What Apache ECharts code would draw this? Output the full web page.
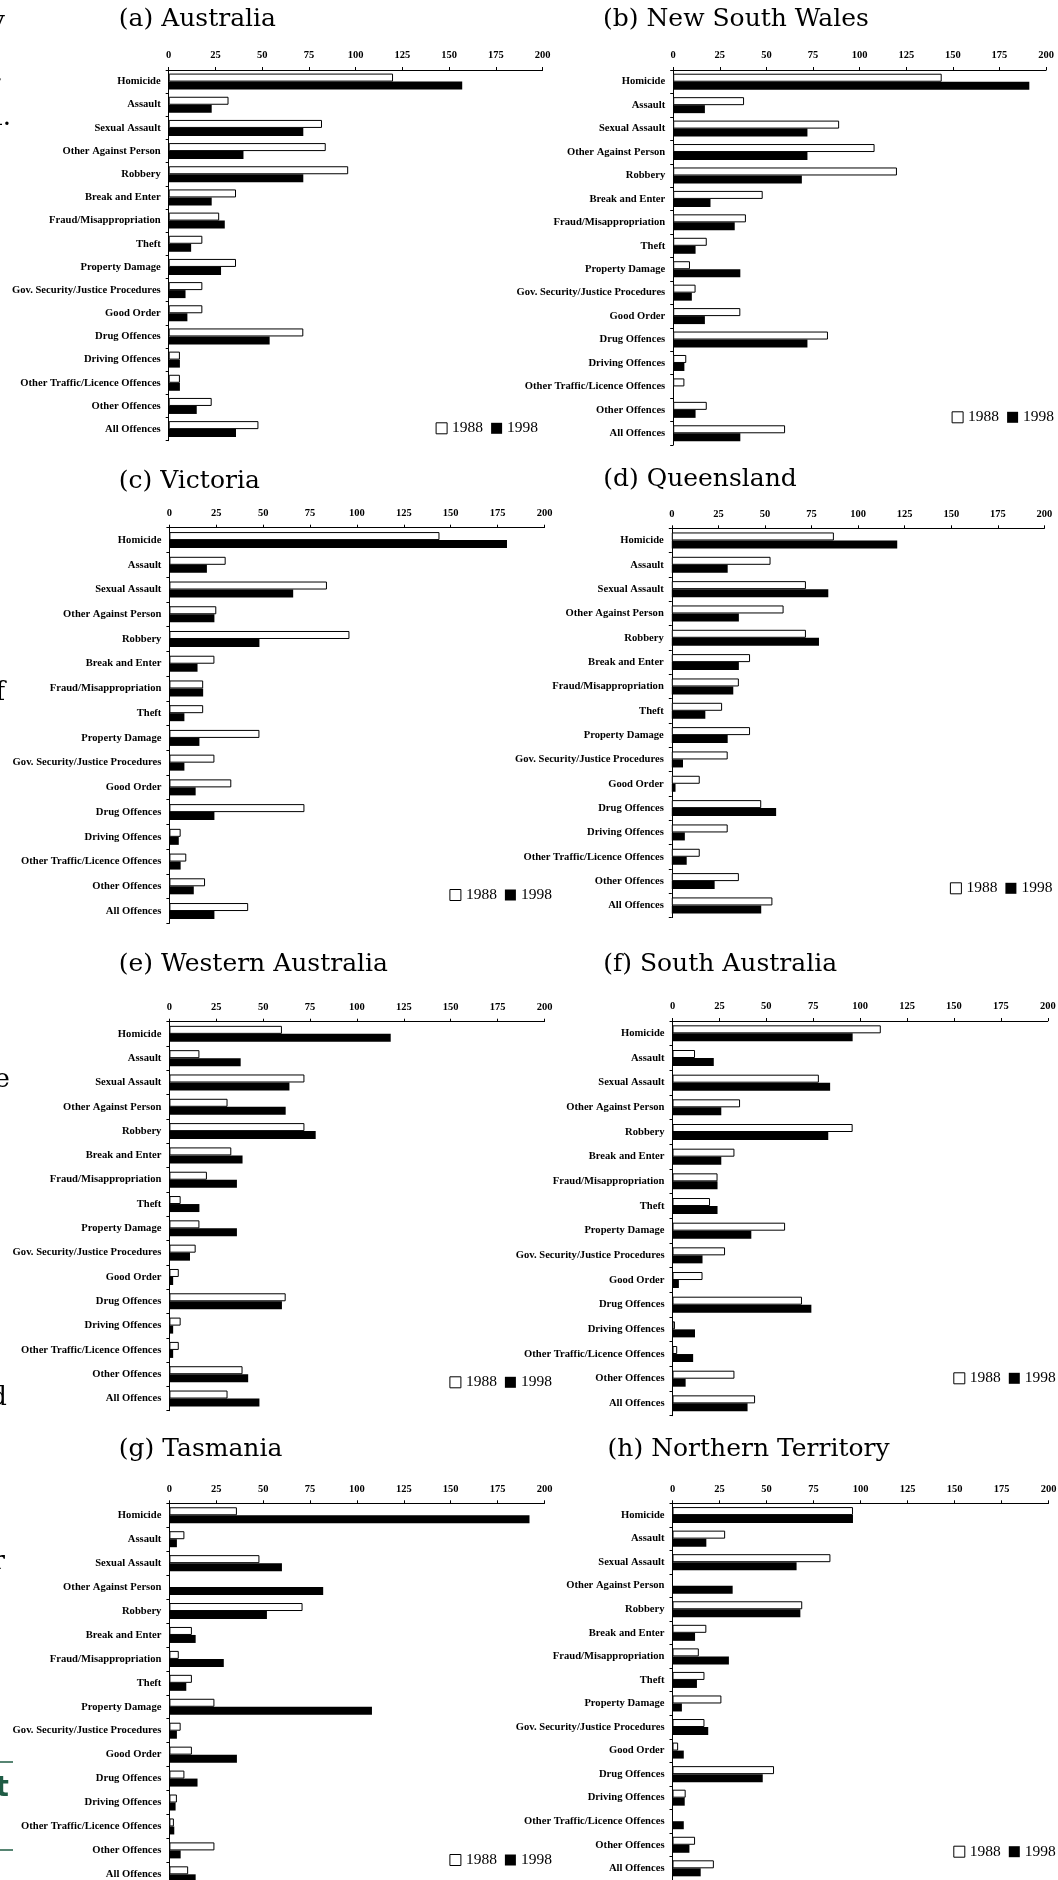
<!DOCTYPE html>
<html>
<head>
<meta charset="utf-8">
<title>Offence rates 1988 and 1998</title>
<script src="https://cdn.jsdelivr.net/npm/echarts@6.0.0/dist/echarts.min.js"></script>
<style>
  html, body { margin: 0; padding: 0; background: #fff; }
  #chart { width: 1058px; height: 1880px; }
</style>
</head>
<body>
<div id="chart"></div>
<script>
// categories (top to bottom)
const categories = [
  'Homicide', 'Assault', 'Sexual Assault', 'Other Against Person', 'Robbery',
  'Break and Enter', 'Fraud/Misappropriation', 'Theft', 'Property Damage',
  'Gov. Security/Justice Procedures', 'Good Order', 'Drug Offences',
  'Driving Offences', 'Other Traffic/Licence Offences', 'Other Offences', 'All Offences'
];
const years = ['1988', '1998'];

// values (null = no bar)
const aus1988 = [120, 32, 82, 84, 96, 36, 27, 18, 36, 18, 18, 72, 6, 6, 23, 48];
const aus1998 = [157, 23, 72, 40, 72, 23, 30, 12, 28, 9, 10, 54, 6, 6, 15, 36];
const nsw1988 = [144, 38, 89, 108, 120, 48, 39, 18, 9, 12, 36, 83, 7, 6, 18, 60];
const nsw1998 = [191, 17, 72, 72, 69, 20, 33, 12, 36, 10, 17, 72, 6, null, 12, 36];
const vic1988 = [144, 30, 84, 25, 96, 24, 18, 18, 48, 24, 33, 72, 6, 9, 19, 42];
const vic1998 = [180, 20, 66, 24, 48, 15, 18, 8, 16, 8, 14, 24, 5, 6, 13, 24];
const qld1988 = [87, 53, 72, 60, 72, 42, 36, 27, 42, 30, 15, 48, 30, 15, 36, 54];
const qld1998 = [121, 30, 84, 36, 79, 36, 33, 18, 30, 6, 2, 56, 7, 8, 23, 48];
const wa1988 = [60, 16, 72, 31, 72, 33, 20, 6, 16, 14, 5, 62, 6, 5, 39, 31];
const wa1998 = [118, 38, 64, 62, 78, 39, 36, 16, 36, 11, 2, 60, 2, 2, 42, 48];
const sa1988 = [111, 12, 78, 36, 96, 33, 24, 20, 60, 28, 16, 69, 1.3, 2.5, 33, 44];
const sa1998 = [96, 22, 84, 26, 83, 26, 24, 24, 42, 16, 3.4, 74, 12, 11, 7, 40];
const tas1988 = [36, 8, 48, null, 71, 12, 5, 12, 24, 6, 12, 8, 4, 2.4, 24, 10];
const tas1998 = [192, 4, 60, 82, 52, 14, 29, 9, 108, 4, 36, 15, 3.3, 2.6, 6, 14];
const nt1988 = [96, 28, 84, null, 69, 18, 14, 17, 26, 17, 3, 54, 7, null, 12, 22];
const nt1998 = [96, 18, 66, 32, 68, 12, 30, 13, 5, 19, 6, 48, 6.5, 6, 9, 15];

const panelTitles = [
  '(a) Australia', '(b) New South Wales', '(c) Victoria', '(d) Queensland',
  '(e) Western Australia', '(f) South Australia', '(g) Tasmania', '(h) Northern Territory'
];

// layout: grid [left, top, width, height], title [left, centreY], legend [left, centreY]
const panels = [
  { d88: aus1988, d98: aus1998, grid: [168.7, 70, 373.9, 370.7], title: [118.8, 18.3], legend: [435.6, 428.3] },
  { d88: nsw1988, d98: nsw1998, grid: [673.2, 70, 372.9, 375], title: [603, 18.3], legend: [951.6, 417.3] },
  { d88: vic1988, d98: vic1998, grid: [169.4, 527.7, 375.1, 395.7], title: [118.8, 480], legend: [449.4, 895] },
  { d88: qld1988, d98: qld1998, grid: [671.8, 528.3, 372.6, 389.3], title: [603.2, 478.3], legend: [949.9, 888.3] },
  { d88: wa1988, d98: wa1998, grid: [169.4, 1021.7, 375.1, 389], title: [118.8, 963.3], legend: [449.4, 1382.3] },
  { d88: sa1988, d98: sa1998, grid: [672.5, 1021, 375.3, 394.7], title: [603.2, 963.3], legend: [953.3, 1378.3] },
  { d88: tas1988, d98: tas1998, grid: [169.4, 1503.3, 375.1, 383], title: [118.8, 1448.3], legend: [449.4, 1860] },
  { d88: nt1988, d98: nt1998, grid: [672.5, 1503.3, 376, 376.8], title: [607.6, 1448.3], legend: [953.3, 1851.7] }
];

const SERIF = 'Liberation Serif';
const TITLE_SIZE = 25;

const grid = [], xAxis = [], yAxis = [], series = [], title = [], legend = [];

panels.forEach((p, i) => {
  const [gl, gt, gw, gh] = p.grid;
  grid.push({ left: gl, top: gt, width: gw, height: gh, containLabel: false, outerBoundsMode: 'none' });

  xAxis.push({
    gridIndex: i, type: 'value', position: 'top',
    min: 0, max: 200, interval: 25,
    splitLine: { show: false },
    axisLine: { show: true, lineStyle: { color: '#000', width: 1 } },
    axisTick: { show: true, length: 3, lineStyle: { color: '#000' } },
    axisLabel: { color: '#000', fontFamily: SERIF, fontSize: 10.5, fontWeight: 'bold', margin: 9 }
  });

  yAxis.push({
    gridIndex: i, type: 'category', inverse: true, data: categories,
    axisLine: { show: true, lineStyle: { color: '#000', width: 1 } },
    axisTick: { show: true, length: 3, lineStyle: { color: '#000' } },
    axisLabel: { color: '#000', fontFamily: SERIF, fontSize: 10.6, fontWeight: 'bold', margin: 8, interval: 0 }
  });

  series.push({
    name: years[0], type: 'bar', xAxisIndex: i, yAxisIndex: i,
    data: p.d88, barWidth: 8, barGap: '0%',
    itemStyle: { color: '#fff', borderColor: '#000', borderWidth: 1 },
    emphasis: { disabled: true }, animation: false
  });
  series.push({
    name: years[1], type: 'bar', xAxisIndex: i, yAxisIndex: i,
    data: p.d98, barWidth: 8, barGap: '0%',
    itemStyle: { color: '#000' },
    emphasis: { disabled: true }, animation: false
  });

  title.push({
    text: panelTitles[i], left: p.title[0], top: p.title[1] - TITLE_SIZE / 2 + 1.5, padding: 0,
    textStyle: { fontFamily: 'DejaVu Serif', fontSize: TITLE_SIZE, fontWeight: 'normal', color: '#000' }
  });

  legend.push({
    left: p.legend[0], top: p.legend[1] - 8, padding: 0,
    orient: 'horizontal', itemWidth: 11, itemHeight: 11, itemGap: 8,
    selectedMode: false, icon: 'rect',
    textStyle: { fontFamily: SERIF, fontSize: 15.5, color: '#000' },
    data: [
      { name: years[0], itemStyle: { color: '#fff', borderColor: '#000', borderWidth: 1 } },
      { name: years[1], itemStyle: { color: '#000' } }
    ]
  });
});

// cut-off bits of the facing page along the left edge
const edgeFont = '26px "DejaVu Serif"';
const edgeText = (txt, x, y, font, fill) => ({
  type: 'text', silent: true,
  style: { text: txt, x: x, y: y, font: font || edgeFont, fill: fill || '#000', align: 'right', verticalAlign: 'middle' }
});
const graphic = [
  edgeText('y', 5, 22),
  edgeText('.', 3, 74),
  edgeText('n.', 11, 118),
  edgeText('f', 5, 693),
  edgeText('e', 10, 1080),
  edgeText('d', 7, 1398),
  edgeText('r', 5, 1562),
  edgeText('t', 9, 1789, 'bold 28px "DejaVu Sans"', '#1f5c45'),
  { type: 'line', silent: true, shape: { x1: 0, y1: 1762, x2: 13, y2: 1762 }, style: { stroke: '#1f5c45', lineWidth: 1.5 } },
  { type: 'line', silent: true, shape: { x1: 0, y1: 1850, x2: 13, y2: 1850 }, style: { stroke: '#1f5c45', lineWidth: 1.5 } }
];

const chart = echarts.init(document.getElementById('chart'), null, { renderer: 'canvas' });
chart.setOption({
  backgroundColor: '#fff',
  animation: false,
  title: title,
  legend: legend,
  grid: grid,
  xAxis: xAxis,
  yAxis: yAxis,
  series: series,
  graphic: graphic
});
</script>
</body>
</html>
